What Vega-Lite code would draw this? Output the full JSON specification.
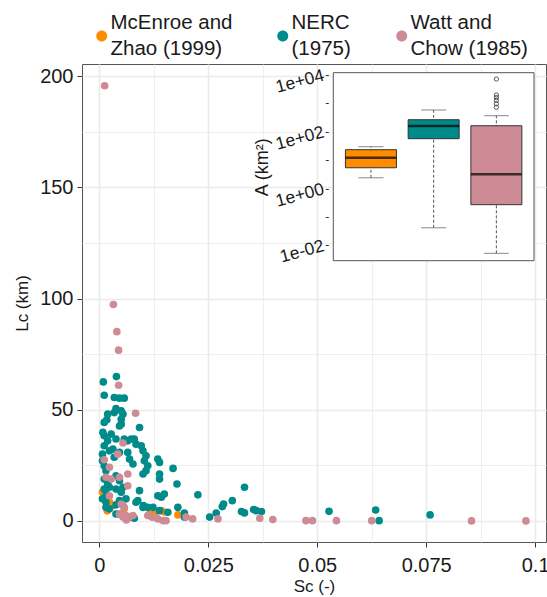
{
  "$schema": "https://vega.github.io/schema/vega-lite/v6.json",
  "width": 464,
  "height": 478,
  "autosize": {"type": "none"},
  "padding": {"left": 82, "top": 64, "right": 1, "bottom": 55},
  "background": "white",
  "config": {
    "view": {"stroke": "#555555", "strokeWidth": 1},
    "font": "Liberation Sans",
    "style": {"guide-label": {"lineHeight": 26}}
  },
  "resolve": {"scale": {"x": "independent", "y": "independent"}},
  "layer": [
    {
      "data": {"values": [
        {"source": "McEnroe and Zhao (1999)", "Sc": 0.0011, "Lc": 11.3},
        {"source": "McEnroe and Zhao (1999)", "Sc": 0.0007, "Lc": 13.0},
        {"source": "McEnroe and Zhao (1999)", "Sc": 0.0031, "Lc": 6.9},
        {"source": "McEnroe and Zhao (1999)", "Sc": 0.0023, "Lc": 8.5},
        {"source": "McEnroe and Zhao (1999)", "Sc": 0.0057, "Lc": 5.4},
        {"source": "McEnroe and Zhao (1999)", "Sc": 0.0115, "Lc": 3.1},
        {"source": "McEnroe and Zhao (1999)", "Sc": 0.0126, "Lc": 3.1},
        {"source": "McEnroe and Zhao (1999)", "Sc": 0.0142, "Lc": 4.6},
        {"source": "McEnroe and Zhao (1999)", "Sc": 0.0180, "Lc": 2.7},
        {"source": "McEnroe and Zhao (1999)", "Sc": 0.0149, "Lc": 4.0},
        {"source": "McEnroe and Zhao (1999)", "Sc": 0.0018, "Lc": 4.5},
        {"source": "McEnroe and Zhao (1999)", "Sc": 0.0120, "Lc": 1.8},
        {"source": "NERC (1975)", "Sc": 0.0039, "Lc": 64.9},
        {"source": "NERC (1975)", "Sc": 0.0009, "Lc": 62.5},
        {"source": "NERC (1975)", "Sc": 0.0011, "Lc": 56.5},
        {"source": "NERC (1975)", "Sc": 0.0034, "Lc": 55.5},
        {"source": "NERC (1975)", "Sc": 0.0046, "Lc": 55.2},
        {"source": "NERC (1975)", "Sc": 0.0057, "Lc": 55.2},
        {"source": "NERC (1975)", "Sc": 0.0038, "Lc": 50.5},
        {"source": "NERC (1975)", "Sc": 0.0050, "Lc": 49.5},
        {"source": "NERC (1975)", "Sc": 0.0054, "Lc": 48.0},
        {"source": "NERC (1975)", "Sc": 0.0019, "Lc": 48.0},
        {"source": "NERC (1975)", "Sc": 0.0034, "Lc": 48.7},
        {"source": "NERC (1975)", "Sc": 0.0050, "Lc": 45.7},
        {"source": "NERC (1975)", "Sc": 0.0050, "Lc": 43.5},
        {"source": "NERC (1975)", "Sc": 0.0046, "Lc": 42.7},
        {"source": "NERC (1975)", "Sc": 0.0011, "Lc": 44.3},
        {"source": "NERC (1975)", "Sc": 0.0017, "Lc": 45.5},
        {"source": "NERC (1975)", "Sc": 0.0092, "Lc": 42.0},
        {"source": "NERC (1975)", "Sc": 0.0008, "Lc": 39.8},
        {"source": "NERC (1975)", "Sc": 0.0011, "Lc": 38.3},
        {"source": "NERC (1975)", "Sc": 0.0027, "Lc": 39.0},
        {"source": "NERC (1975)", "Sc": 0.0019, "Lc": 36.0},
        {"source": "NERC (1975)", "Sc": 0.0057, "Lc": 36.8},
        {"source": "NERC (1975)", "Sc": 0.0065, "Lc": 36.0},
        {"source": "NERC (1975)", "Sc": 0.0080, "Lc": 36.8},
        {"source": "NERC (1975)", "Sc": 0.0084, "Lc": 34.5},
        {"source": "NERC (1975)", "Sc": 0.0096, "Lc": 33.8},
        {"source": "NERC (1975)", "Sc": 0.0100, "Lc": 31.5},
        {"source": "NERC (1975)", "Sc": 0.0031, "Lc": 32.3},
        {"source": "NERC (1975)", "Sc": 0.0046, "Lc": 30.8},
        {"source": "NERC (1975)", "Sc": 0.0034, "Lc": 28.6},
        {"source": "NERC (1975)", "Sc": 0.0065, "Lc": 30.8},
        {"source": "NERC (1975)", "Sc": 0.0069, "Lc": 27.8},
        {"source": "NERC (1975)", "Sc": 0.0077, "Lc": 25.6},
        {"source": "NERC (1975)", "Sc": 0.0107, "Lc": 29.3},
        {"source": "NERC (1975)", "Sc": 0.0103, "Lc": 27.0},
        {"source": "NERC (1975)", "Sc": 0.0111, "Lc": 24.8},
        {"source": "NERC (1975)", "Sc": 0.0107, "Lc": 22.6},
        {"source": "NERC (1975)", "Sc": 0.0100, "Lc": 21.1},
        {"source": "NERC (1975)", "Sc": 0.0134, "Lc": 27.8},
        {"source": "NERC (1975)", "Sc": 0.0138, "Lc": 26.3},
        {"source": "NERC (1975)", "Sc": 0.0169, "Lc": 23.6},
        {"source": "NERC (1975)", "Sc": 0.0011, "Lc": 24.8},
        {"source": "NERC (1975)", "Sc": 0.0015, "Lc": 22.6},
        {"source": "NERC (1975)", "Sc": 0.0011, "Lc": 18.8},
        {"source": "NERC (1975)", "Sc": 0.0019, "Lc": 16.6},
        {"source": "NERC (1975)", "Sc": 0.0011, "Lc": 14.3},
        {"source": "NERC (1975)", "Sc": 0.0023, "Lc": 15.1},
        {"source": "NERC (1975)", "Sc": 0.0038, "Lc": 20.3},
        {"source": "NERC (1975)", "Sc": 0.0046, "Lc": 18.1},
        {"source": "NERC (1975)", "Sc": 0.0054, "Lc": 15.1},
        {"source": "NERC (1975)", "Sc": 0.0038, "Lc": 14.3},
        {"source": "NERC (1975)", "Sc": 0.0050, "Lc": 12.9},
        {"source": "NERC (1975)", "Sc": 0.0138, "Lc": 21.1},
        {"source": "NERC (1975)", "Sc": 0.0138, "Lc": 18.8},
        {"source": "NERC (1975)", "Sc": 0.0178, "Lc": 16.6},
        {"source": "NERC (1975)", "Sc": 0.0092, "Lc": 13.6},
        {"source": "NERC (1975)", "Sc": 0.0134, "Lc": 11.3},
        {"source": "NERC (1975)", "Sc": 0.0142, "Lc": 10.6},
        {"source": "NERC (1975)", "Sc": 0.0088, "Lc": 9.1},
        {"source": "NERC (1975)", "Sc": 0.0084, "Lc": 8.4},
        {"source": "NERC (1975)", "Sc": 0.0015, "Lc": 8.4},
        {"source": "NERC (1975)", "Sc": 0.0015, "Lc": 6.1},
        {"source": "NERC (1975)", "Sc": 0.0023, "Lc": 5.4},
        {"source": "NERC (1975)", "Sc": 0.0046, "Lc": 9.1},
        {"source": "NERC (1975)", "Sc": 0.0061, "Lc": 9.9},
        {"source": "NERC (1975)", "Sc": 0.0038, "Lc": 3.1},
        {"source": "NERC (1975)", "Sc": 0.0046, "Lc": 3.1},
        {"source": "NERC (1975)", "Sc": 0.0100, "Lc": 6.1},
        {"source": "NERC (1975)", "Sc": 0.0111, "Lc": 6.1},
        {"source": "NERC (1975)", "Sc": 0.0123, "Lc": 6.1},
        {"source": "NERC (1975)", "Sc": 0.0138, "Lc": 4.6},
        {"source": "NERC (1975)", "Sc": 0.0157, "Lc": 3.9},
        {"source": "NERC (1975)", "Sc": 0.0180, "Lc": 6.1},
        {"source": "NERC (1975)", "Sc": 0.0195, "Lc": 1.7},
        {"source": "NERC (1975)", "Sc": 0.0073, "Lc": 1.7},
        {"source": "NERC (1975)", "Sc": 0.0080, "Lc": 1.2},
        {"source": "NERC (1975)", "Sc": 0.0226, "Lc": 11.7},
        {"source": "NERC (1975)", "Sc": 0.0195, "Lc": 3.5},
        {"source": "NERC (1975)", "Sc": 0.0253, "Lc": 1.7},
        {"source": "NERC (1975)", "Sc": 0.0268, "Lc": 3.5},
        {"source": "NERC (1975)", "Sc": 0.0282, "Lc": 6.4},
        {"source": "NERC (1975)", "Sc": 0.0285, "Lc": 7.6},
        {"source": "NERC (1975)", "Sc": 0.0305, "Lc": 9.1},
        {"source": "NERC (1975)", "Sc": 0.0333, "Lc": 15.1},
        {"source": "NERC (1975)", "Sc": 0.0326, "Lc": 4.2},
        {"source": "NERC (1975)", "Sc": 0.0333, "Lc": 3.6},
        {"source": "NERC (1975)", "Sc": 0.0354, "Lc": 5.1},
        {"source": "NERC (1975)", "Sc": 0.0360, "Lc": 4.6},
        {"source": "NERC (1975)", "Sc": 0.0372, "Lc": 4.2},
        {"source": "NERC (1975)", "Sc": 0.0527, "Lc": 4.3},
        {"source": "NERC (1975)", "Sc": 0.0634, "Lc": 4.9},
        {"source": "NERC (1975)", "Sc": 0.0642, "Lc": 0.1},
        {"source": "NERC (1975)", "Sc": 0.0759, "Lc": 2.7},
        {"source": "NERC (1975)", "Sc": 0.0149, "Lc": 12.1},
        {"source": "NERC (1975)", "Sc": 0.0101, "Lc": 6.9},
        {"source": "NERC (1975)", "Sc": 0.0038, "Lc": 7.2},
        {"source": "NERC (1975)", "Sc": 0.0073, "Lc": 36.8},
        {"source": "NERC (1975)", "Sc": 0.0038, "Lc": 36.8},
        {"source": "NERC (1975)", "Sc": 0.0023, "Lc": 31.5},
        {"source": "NERC (1975)", "Sc": 0.0011, "Lc": 33.8},
        {"source": "NERC (1975)", "Sc": 0.0007, "Lc": 30.0},
        {"source": "NERC (1975)", "Sc": 0.0007, "Lc": 27.0},
        {"source": "NERC (1975)", "Sc": 0.0016, "Lc": 12.1},
        {"source": "NERC (1975)", "Sc": 0.0007, "Lc": 9.9},
        {"source": "Watt and Chow (1985)", "Sc": 0.0012, "Lc": 195.7},
        {"source": "Watt and Chow (1985)", "Sc": 0.0032, "Lc": 97.3},
        {"source": "Watt and Chow (1985)", "Sc": 0.0040, "Lc": 85.1},
        {"source": "Watt and Chow (1985)", "Sc": 0.0044, "Lc": 76.8},
        {"source": "Watt and Chow (1985)", "Sc": 0.0044, "Lc": 61.0},
        {"source": "Watt and Chow (1985)", "Sc": 0.0083, "Lc": 48.4},
        {"source": "Watt and Chow (1985)", "Sc": 0.0054, "Lc": 35.0},
        {"source": "Watt and Chow (1985)", "Sc": 0.0042, "Lc": 30.0},
        {"source": "Watt and Chow (1985)", "Sc": 0.0011, "Lc": 27.5},
        {"source": "Watt and Chow (1985)", "Sc": 0.0023, "Lc": 24.1},
        {"source": "Watt and Chow (1985)", "Sc": 0.0015, "Lc": 19.6},
        {"source": "Watt and Chow (1985)", "Sc": 0.0027, "Lc": 18.8},
        {"source": "Watt and Chow (1985)", "Sc": 0.0046, "Lc": 19.6},
        {"source": "Watt and Chow (1985)", "Sc": 0.0065, "Lc": 21.1},
        {"source": "Watt and Chow (1985)", "Sc": 0.0065, "Lc": 15.8},
        {"source": "Watt and Chow (1985)", "Sc": 0.0023, "Lc": 11.3},
        {"source": "Watt and Chow (1985)", "Sc": 0.0050, "Lc": 7.6},
        {"source": "Watt and Chow (1985)", "Sc": 0.0054, "Lc": 6.9},
        {"source": "Watt and Chow (1985)", "Sc": 0.0057, "Lc": 6.1},
        {"source": "Watt and Chow (1985)", "Sc": 0.0046, "Lc": 3.1},
        {"source": "Watt and Chow (1985)", "Sc": 0.0054, "Lc": 1.7},
        {"source": "Watt and Chow (1985)", "Sc": 0.0061, "Lc": 2.4},
        {"source": "Watt and Chow (1985)", "Sc": 0.0069, "Lc": 1.7},
        {"source": "Watt and Chow (1985)", "Sc": 0.0077, "Lc": 2.4},
        {"source": "Watt and Chow (1985)", "Sc": 0.0062, "Lc": 0.4},
        {"source": "Watt and Chow (1985)", "Sc": 0.0111, "Lc": 2.4},
        {"source": "Watt and Chow (1985)", "Sc": 0.0123, "Lc": 1.7},
        {"source": "Watt and Chow (1985)", "Sc": 0.0134, "Lc": 0.9},
        {"source": "Watt and Chow (1985)", "Sc": 0.0146, "Lc": 0.1},
        {"source": "Watt and Chow (1985)", "Sc": 0.0153, "Lc": 0.1},
        {"source": "Watt and Chow (1985)", "Sc": 0.0199, "Lc": 1.7},
        {"source": "Watt and Chow (1985)", "Sc": 0.0214, "Lc": 0.9},
        {"source": "Watt and Chow (1985)", "Sc": 0.0272, "Lc": 0.9},
        {"source": "Watt and Chow (1985)", "Sc": 0.0368, "Lc": 1.2},
        {"source": "Watt and Chow (1985)", "Sc": 0.0398, "Lc": 0.6},
        {"source": "Watt and Chow (1985)", "Sc": 0.0474, "Lc": 0.1},
        {"source": "Watt and Chow (1985)", "Sc": 0.0489, "Lc": 0.1},
        {"source": "Watt and Chow (1985)", "Sc": 0.0544, "Lc": 0.1},
        {"source": "Watt and Chow (1985)", "Sc": 0.0625, "Lc": 0.1},
        {"source": "Watt and Chow (1985)", "Sc": 0.0854, "Lc": 0.0},
        {"source": "Watt and Chow (1985)", "Sc": 0.0979, "Lc": 0.0}
      ]},
      "mark": {"type": "point", "filled": true, "opacity": 1, "size": 58, "shape": "circle"},
      "encoding": {
        "x": {
          "field": "Sc", "type": "quantitative",
          "scale": {"domain": [-0.004, 0.1025], "nice": false, "zero": false},
          "axis": {
            "values": [0, 0.0125, 0.025, 0.0375, 0.05, 0.0625, 0.075, 0.0875, 0.1],
            "labelExpr": "datum.value == 0 ? '0' : datum.value == 0.025 ? '0.025' : datum.value == 0.05 ? '0.05' : datum.value == 0.075 ? '0.075' : datum.value == 0.1 ? '0.1' : ''",
            "title": "Sc (-)",
            "grid": true,
            "gridColor": "#EBEBEB",
            "gridWidth": {"condition": {"test": "indexof([0.0125, 0.0375, 0.0625, 0.0875], datum.value) >= 0", "value": 0.8}, "value": 1.6},
            "tickSize": {"condition": {"test": "indexof([0.0125, 0.0375, 0.0625, 0.0875], datum.value) >= 0", "value": 0}, "value": 5},
            "tickColor": "#333333",
            "domain": false,
            "labelFontSize": 20,
            "labelColor": "#1a1a1a",
            "labelPadding": 8,
            "labelFlush": false,
            "labelBound": false,
            "labelOverlap": false,
            "titleFontSize": 17,
            "titleFontWeight": "normal",
            "titleColor": "#1a1a1a",
            "titlePadding": 3
          }
        },
        "y": {
          "field": "Lc", "type": "quantitative",
          "scale": {"domain": [-9.5, 205.5], "nice": false, "zero": false},
          "axis": {
            "values": [0, 25, 50, 75, 100, 125, 150, 175, 200],
            "labelExpr": "datum.value % 50 == 0 ? datum.label : ''",
            "title": "Lc (km)",
            "grid": true,
            "gridColor": "#EBEBEB",
            "gridWidth": {"condition": {"test": "datum.value % 50 != 0", "value": 0.8}, "value": 1.6},
            "tickSize": {"condition": {"test": "datum.value % 50 != 0", "value": 0}, "value": 5},
            "tickColor": "#333333",
            "domain": false,
            "labelFontSize": 20,
            "labelColor": "#1a1a1a",
            "labelPadding": 4,
            "labelOverlap": false,
            "labelBound": false,
            "labelFlush": false,
            "titleFontSize": 17,
            "titleFontWeight": "normal",
            "titleColor": "#1a1a1a",
            "titlePadding": 8
          }
        },
        "color": {
          "field": "source", "type": "nominal",
          "scale": {"domain": ["McEnroe and Zhao (1999)", "NERC (1975)", "Watt and Chow (1985)"], "range": ["#FF8C00", "#008B8B", "#CD8C95"]},
          "legend": {
            "orient": "none",
            "legendX": 9.5,
            "legendY": -51,
            "direction": "horizontal",
            "title": null,
            "labelFontSize": 20.5,
            "labelColor": "#1a1a1a",
            "labelLimit": 0,
            "labelOffset": -1.5,
            "columnPadding": 40,
            "symbolSize": 121,
            "symbolType": "M -1 2.3 A 1 1 0 1 0 1 2.3 A 1 1 0 1 0 -1 2.3 Z",
            "symbolStrokeWidth": 0,
            "symbolOpacity": 1,
            "labelExpr": "datum.label == 'McEnroe and Zhao (1999)' ? ['McEnroe and', 'Zhao (1999)'] : datum.label == 'NERC (1975)' ? ['NERC', '(1975)'] : ['Watt and', 'Chow (1985)']"
          }
        }
      }
    },
    {
      "layer": [
        {
          "data": {"values": [{"panel": "inset"}]},
          "mark": {"type": "rect", "fill": "white", "stroke": "#555555", "strokeWidth": 1},
          "encoding": {
            "x": {"datum": 0.4, "type": "quantitative", "scale": {"domain": [0.4, 3.6], "range": [246.3, 457], "nice": false, "zero": false}, "axis": null},
            "x2": {"datum": 3.6},
            "y": {
              "datum": 0.00292, "type": "quantitative",
              "scale": {"type": "log", "domain": [0.00292, 11860], "range": [196.7, 8.7], "nice": false, "zero": false},
              "axis": {
                "orient": "left",
                "offset": -246.3,
                "values": [0.01, 0.1, 1, 10, 100, 1000, 10000],
                "labelExpr": "datum.value == 0.01 ? '1e-02' : datum.value == 1 ? '1e+00' : datum.value == 100 ? '1e+02' : datum.value == 10000 ? '1e+04' : ''",
                "grid": false,
                "domain": false,
                "ticks": true,
                "tickSize": 3,
                "tickColor": "#333333",
                "labelAngle": -15,
                "labelFontSize": 17.5,
                "labelColor": "#1a1a1a",
                "labelPadding": 2,
                "labelOverlap": false,
                "labelBound": false,
                "labelFlush": false,
                "title": "A (km²)",
                "titleFontSize": 18,
                "titleFontWeight": "normal",
                "titleColor": "#1a1a1a",
                "titlePadding": 2
              }
            },
            "y2": {"datum": 11860}
          }
        },
        {
          "data": {"name": "boxes", "values": [
            {"source": "McEnroe and Zhao (1999)", "k": 1, "lo": 2.4, "q1": 5.4, "med": 12.2, "q3": 23.3, "hi": 29.7},
            {"source": "NERC (1975)", "k": 2, "lo": 0.042, "q1": 56.8, "med": 158, "q3": 264, "hi": 580},
            {"source": "Watt and Chow (1985)", "k": 3, "lo": 0.0053, "q1": 0.272, "med": 3.18, "q3": 162, "hi": 365}
          ]},
          "layer": [
            {
              "mark": {"type": "rule", "color": "#555555", "strokeWidth": 1, "strokeDash": [3, 2]},
              "encoding": {
                "x": {"field": "k", "type": "quantitative", "axis": null},
                "y": {"field": "lo", "type": "quantitative", "title": "A (km²)"},
                "y2": {"field": "hi"}
              }
            },
            {
              "mark": {"type": "tick", "orient": "horizontal", "size": 25, "thickness": 1, "color": "#555555"},
              "encoding": {
                "x": {"field": "k", "type": "quantitative", "axis": null},
                "y": {"field": "lo", "type": "quantitative", "title": "A (km²)"}
              }
            },
            {
              "mark": {"type": "tick", "orient": "horizontal", "size": 25, "thickness": 1, "color": "#555555"},
              "encoding": {
                "x": {"field": "k", "type": "quantitative", "axis": null},
                "y": {"field": "hi", "type": "quantitative", "title": "A (km²)"}
              }
            },
            {
              "mark": {"type": "bar", "size": 51, "stroke": "#333333", "strokeWidth": 1},
              "encoding": {
                "x": {"field": "k", "type": "quantitative", "axis": null},
                "y": {"field": "q1", "type": "quantitative", "title": "A (km²)"},
                "y2": {"field": "q3"},
                "fill": {
                  "field": "source", "type": "nominal",
                  "scale": {"domain": ["McEnroe and Zhao (1999)", "NERC (1975)", "Watt and Chow (1985)"], "range": ["#FF8C00", "#008B8B", "#CD8C95"]},
                  "legend": null
                }
              }
            },
            {
              "mark": {"type": "tick", "orient": "horizontal", "size": 51, "thickness": 2.5, "color": "#000000"},
              "encoding": {
                "x": {"field": "k", "type": "quantitative", "axis": null},
                "y": {"field": "med", "type": "quantitative", "title": "A (km²)"}
              }
            }
          ]
        },
        {
          "data": {"values": [
            {"source": "Watt and Chow (1985)", "k": 3, "A": 7100},
            {"source": "Watt and Chow (1985)", "k": 3, "A": 1950},
            {"source": "Watt and Chow (1985)", "k": 3, "A": 1590},
            {"source": "Watt and Chow (1985)", "k": 3, "A": 1270},
            {"source": "Watt and Chow (1985)", "k": 3, "A": 960},
            {"source": "Watt and Chow (1985)", "k": 3, "A": 725}
          ]},
          "mark": {"type": "point", "shape": "circle", "filled": false, "size": 18, "stroke": "#333333", "strokeWidth": 0.8, "opacity": 1},
          "encoding": {
            "x": {"field": "k", "type": "quantitative", "axis": null},
            "y": {"field": "A", "type": "quantitative", "title": "A (km²)"}
          }
        }
      ]
    }
  ]
}
